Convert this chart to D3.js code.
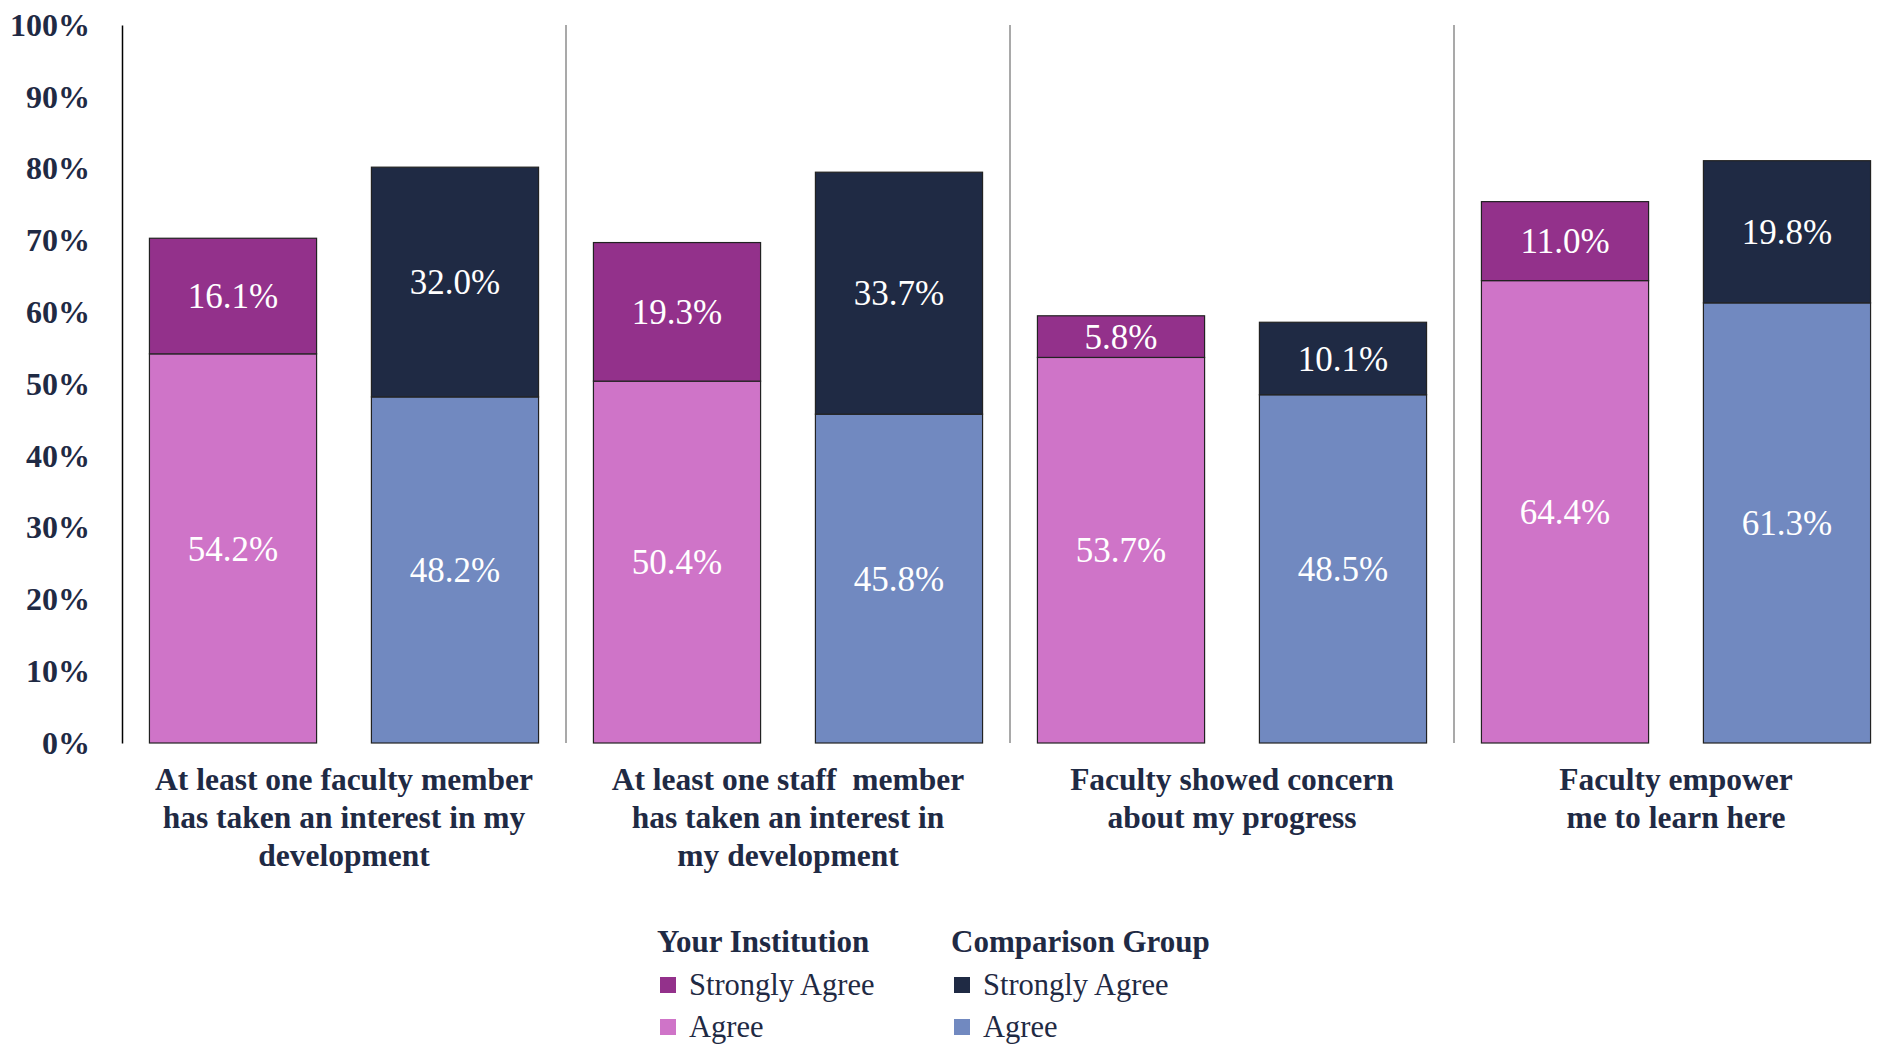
<!DOCTYPE html>
<html>
<head>
<meta charset="utf-8">
<script src="https://cdn.jsdelivr.net/npm/d3@7"></script>
<style>
  body { margin: 0; background: #fff; }
  svg, svg text { font-family: "Liberation Serif", "Times New Roman", "DejaVu Serif", serif; }
</style>
</head>
<body>
<div id="chart"></div>
<script>
const categories = [
  ["At least one faculty member", "has taken an interest in my", "development"],
  ["At least one staff  member", "has taken an interest in", "my development"],
  ["Faculty showed concern", "about my progress"],
  ["Faculty empower", "me to learn here"]
];
const instAgree = [54.2, 50.4, 53.7, 64.4];
const instStrong = [16.1, 19.3, 5.8, 11.0];
const compAgree = [48.2, 45.8, 48.5, 61.3];
const compStrong = [32.0, 33.7, 10.1, 19.8];
const yTicks = [0, 10, 20, 30, 40, 50, 60, 70, 80, 90, 100];

const width = 1889, height = 1048;
const navy = "#1f2a44";
const serif = "'Liberation Serif', 'Times New Roman', 'DejaVu Serif', serif";
const colors = {
  instStrong: "#93318b", instAgree: "#cf74c8",
  compStrong: "#1f2a44", compAgree: "#7189c0"
};

const svg = d3.select("#chart").append("svg")
  .attr("width", width).attr("height", height)
  .attr("font-family", serif);

const x = d3.scaleBand()
  .domain(d3.range(categories.length))
  .range([122, 1898])
  .padding(0);

const xg = d3.scaleBand()
  .domain(["inst", "comp"])
  .range([0, x.bandwidth()])
  .paddingInner(0.247)
  .paddingOuter(0.1236);

const y = d3.scaleLinear().domain([0, 100]).range([743, 25]);

// separators between groups
svg.append("g").selectAll("line")
  .data(d3.range(1, categories.length))
  .join("line")
  .attr("x1", d => x(d)).attr("x2", d => x(d))
  .attr("y1", y(100)).attr("y2", y(0))
  .attr("stroke", "#8c8c8c").attr("stroke-width", 1.5);

// y axis
const yAxis = svg.append("g")
  .attr("transform", "translate(122,0)")
  .call(d3.axisLeft(y).tickValues(yTicks).tickFormat(d => d + "%").tickSize(0).tickSizeOuter(0).tickPadding(32));
yAxis.select(".domain").attr("stroke", "#000").attr("stroke-width", 1.5);
yAxis.selectAll("text")
  .attr("fill", navy)
  .style("font-family", serif)
  .style("font-size", "32px")
  .style("font-weight", "bold");

// stacked bars
const series = [
  { key: "inst", agree: instAgree, strong: instStrong, ca: colors.instAgree, cs: colors.instStrong },
  { key: "comp", agree: compAgree, strong: compStrong, ca: colors.compAgree, cs: colors.compStrong }
];

const segs = [];
categories.forEach((c, i) => {
  series.forEach(s => {
    segs.push({ i, key: s.key, y0: 0, y1: s.agree[i], v: s.agree[i], color: s.ca });
    segs.push({ i, key: s.key, y0: s.agree[i], y1: s.agree[i] + s.strong[i], v: s.strong[i], color: s.cs });
  });
});

const bars = svg.append("g");
bars.selectAll("rect")
  .data(segs)
  .join("rect")
  .attr("x", d => x(d.i) + xg(d.key))
  .attr("width", xg.bandwidth())
  .attr("y", d => y(d.y1))
  .attr("height", d => y(d.y0) - y(d.y1))
  .attr("fill", d => d.color)
  .attr("stroke", "#222")
  .attr("stroke-width", 1.2);

bars.selectAll("text")
  .data(segs)
  .join("text")
  .attr("x", d => x(d.i) + xg(d.key) + xg.bandwidth() / 2)
  .attr("y", d => y((d.y0 + d.y1) / 2))
  .attr("dy", "0.35em")
  .attr("text-anchor", "middle")
  .attr("fill", "#fff")
  .style("font-family", serif)
  .style("font-size", "35px")
  .text(d => d.v.toFixed(1) + "%");

// category labels
const cat = svg.append("g").selectAll("text")
  .data(categories)
  .join("text")
  .attr("x", (d, i) => x(i) + x.bandwidth() / 2)
  .attr("y", 790)
  .attr("text-anchor", "middle")
  .attr("fill", navy)
  .style("font-family", serif)
  .style("font-size", "31.5px")
  .style("font-weight", "bold")
  .style("white-space", "pre");
cat.selectAll("tspan")
  .data((d, i) => d.map(t => ({ t, i })))
  .join("tspan")
  .attr("x", d => x(d.i) + x.bandwidth() / 2)
  .attr("dy", (d, j) => j === 0 ? 0 : 38)
  .text(d => d.t);

// legend
const legendCols = [
  { title: "Your Institution", x: 657, items: [["Strongly Agree", colors.instStrong], ["Agree", colors.instAgree]] },
  { title: "Comparison Group", x: 951, items: [["Strongly Agree", colors.compStrong], ["Agree", colors.compAgree]] }
];
const lg = svg.append("g").selectAll("g")
  .data(legendCols)
  .join("g")
  .attr("transform", d => `translate(${d.x},0)`);
lg.append("text")
  .attr("x", 0).attr("y", 952)
  .attr("fill", navy)
  .style("font-family", serif)
  .style("font-size", "31px")
  .style("font-weight", "bold")
  .text(d => d.title);
const li = lg.selectAll("g.item")
  .data(d => d.items)
  .join("g")
  .attr("class", "item")
  .attr("transform", (d, j) => `translate(0,${985 + j * 42})`);
li.append("rect")
  .attr("x", 3).attr("y", -8).attr("width", 16).attr("height", 16)
  .attr("fill", d => d[1]);
li.append("text")
  .attr("x", 32).attr("y", 0).attr("dy", "0.33em")
  .attr("fill", navy)
  .style("font-family", serif)
  .style("font-size", "30.5px")
  .text(d => d[0]);
</script>
</body>
</html>
